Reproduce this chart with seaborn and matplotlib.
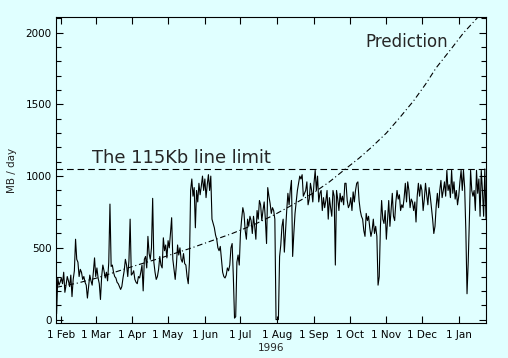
import pandas as pd
import matplotlib
matplotlib.use('Agg')
import matplotlib.pyplot as plt
import matplotlib.dates as mdates
from matplotlib.ticker import MultipleLocator
import seaborn as sns

# colores
fondo = '#e0ffff'

# MB por dia (28 ene 1996 - 24 ene 1997)
ene96 = [40, 290, 240, 260]
feb96 = [290, 250, 330, 190, 240, 300, 270, 230, 310, 160, 280, 340, 560, 420,
         400, 300, 350, 330, 280, 300, 260, 240, 150, 230, 310, 270, 240, 330, 430]
mar96 = [300, 360, 290, 250, 140, 300, 380, 340, 290, 330, 270, 400, 805, 370, 380,
         330, 300, 290, 260, 250, 230, 210, 230, 290, 340, 420, 380, 300, 410, 700, 310]
abr96 = [320, 340, 280, 260, 250, 300, 290, 330, 380, 200, 420, 440, 360, 580, 460,
         420, 500, 845, 400, 330, 280, 300, 350, 440, 380, 360, 570, 480, 520, 430]
may96 = [550, 500, 600, 710, 420, 350, 280, 380, 520, 450, 500, 420, 400, 460, 390,
         380, 300, 250, 400, 900, 980, 860, 920, 640, 900, 820, 950, 870, 930, 1000, 900]
jun96 = [980, 850, 940, 1010, 900, 1000, 700, 670, 640, 590, 560, 500, 480, 510, 420,
         330, 300, 290, 310, 360, 340, 380, 500, 530, 300, 10, 20, 400, 450, 380]
jul96 = [600, 700, 780, 740, 620, 560, 700, 650, 720, 690, 600, 720, 650, 560, 760,
         700, 830, 800, 690, 760, 820, 700, 530, 920, 860, 810, 740, 780, 760, 700, 0]
ago96 = [0, 0, 440, 520, 650, 700, 470, 620, 760, 880, 800, 900, 970, 440, 600,
         740, 820, 900, 950, 1000, 980, 1010, 860, 880, 900, 960, 800, 840, 950, 900, 820]
sep96 = [950, 1040, 900, 1000, 820, 880, 900, 760, 850, 780, 830, 900, 700, 850, 780,
         720, 900, 860, 380, 900, 840, 760, 880, 820, 860, 800, 950, 950, 830, 780]
oct96 = [800, 850, 760, 890, 820, 900, 950, 960, 830, 760, 720, 700, 620, 580, 740,
         690, 720, 640, 580, 620, 700, 600, 650, 580, 240, 300, 650, 830, 700, 670, 760]
nov96 = [560, 700, 830, 650, 760, 880, 720, 690, 820, 900, 840, 870, 760, 800, 780,
         850, 950, 820, 960, 900, 780, 840, 820, 760, 820, 680, 860, 950, 860, 940]
dic96 = [900, 760, 840, 950, 870, 800, 920, 860, 780, 700, 600, 650, 790, 880, 780,
         900, 970, 850, 900, 960, 860, 1040, 900, 940, 850, 1040, 880, 960, 840, 900, 800]
ene97 = [860, 960, 1040, 900, 1040, 920, 620, 180, 400, 700, 1040, 900, 860, 900,
         760, 1040, 880, 980, 720, 1040, 900, 720, 1050, 700]

mb_dia = ene96 + feb96 + mar96 + abr96 + may96 + jun96 + jul96 + ago96 + sep96 + oct96 + nov96 + dic96 + ene97
fechas = pd.date_range('1996-01-28', periods=len(mb_dia), freq='D')

# curva de prediccion (puntos leidos)
pred_fechas = ['1996-01-28', '1996-02-15', '1996-03-02', '1996-04-01', '1996-04-25',
               '1996-05-21', '1996-06-24', '1996-07-12', '1996-07-29', '1996-08-14',
               '1996-08-31', '1996-09-14', '1996-09-26', '1996-10-09', '1996-10-20',
               '1996-11-01', '1996-11-12', '1996-11-24', '1996-12-04', '1996-12-13',
               '1996-12-25', '1997-01-05', '1997-01-18', '1997-01-24']
pred_mb = [225, 255, 290, 370, 430, 500, 600, 660, 728, 800, 880, 960, 1040,
           1125, 1205, 1300, 1405, 1525, 1640, 1755, 1880, 1998, 2115, 2165]

limite = 1050

sns.set_style('ticks')
plt.rcParams['font.family'] = ['DejaVu Sans']

fig = plt.figure(figsize=(5.08, 3.58), dpi=100, facecolor=fondo)
ax = fig.add_axes([0.1102, 0.0969, 0.8465, 0.8548], facecolor=fondo)

df = pd.DataFrame({'fecha': fechas, 'mb': mb_dia})
sns.lineplot(data=df, x='fecha', y='mb', color='black', linewidth=0.8, ax=ax)

pred = pd.DataFrame({'fecha': pd.to_datetime(pred_fechas), 'mb': pred_mb})
sns.lineplot(data=pred, x='fecha', y='mb', color='black', linewidth=0.8,
             linestyle=(0, (5, 2.5, 1, 2.5)), ax=ax)

ax.axhline(limite, color='black', linewidth=0.8, linestyle=(0, (6, 3.5)))

ax.text(0.0837, 0.523, 'The 115Kb line limit', transform=ax.transAxes,
        fontsize=12.9, va='baseline', ha='left')
ax.text(0.719, 0.904, 'Prediction', transform=ax.transAxes,
        fontsize=12, va='baseline', ha='left')

ax.set_xlim(pd.Timestamp('1996-01-27 12:00'), pd.Timestamp('1997-01-24'))
ax.set_ylim(-26, 2107)
ax.xaxis.set_major_locator(mdates.MonthLocator())
ax.xaxis.set_major_formatter(mdates.DateFormatter('1 %b'))
ax.yaxis.set_major_locator(MultipleLocator(500))
ax.yaxis.set_minor_locator(MultipleLocator(100))

ax.tick_params(which='both', direction='in', top=True, right=True,
               color='black', width=0.8, labelsize=7.5, labelcolor='black')
ax.tick_params(axis='y', which='major', length=5, pad=3)
ax.tick_params(axis='y', which='minor', length=3.5)
ax.tick_params(axis='x', which='major', length=5, pad=5)

ax.set_xlabel('1996', fontsize=7.5)
ax.xaxis.set_label_coords(0.5, -0.063)
ax.set_ylabel('MB / day', fontsize=7.5)
ax.yaxis.set_label_coords(-0.09, 0.5)

for s in ax.spines.values():
    s.set_color('black')
    s.set_linewidth(0.8)

fig.savefig('out.png', dpi=100, facecolor=fondo)
